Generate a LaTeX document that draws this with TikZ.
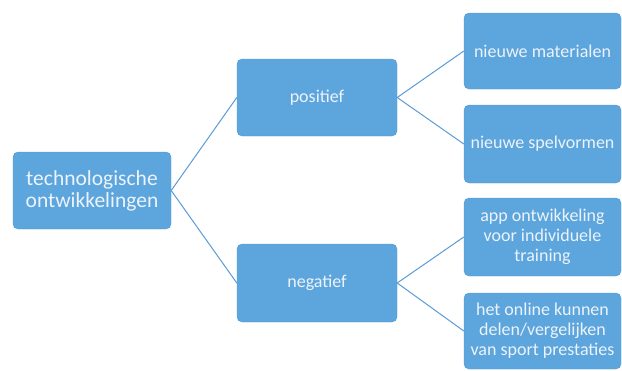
\documentclass[tikz,border=0pt]{standalone}
\usepackage{fontspec}
\setmainfont{Carlito}
\definecolor{boxfill}{RGB}{93,165,221}
\definecolor{linec}{RGB}{91,155,213}
\definecolor{txt}{RGB}{236,243,250}
\begin{document}
\begin{tikzpicture}[x=1pt,y=-1pt,
  box/.style={draw=boxfill!95!black, line width=0.4pt, fill=boxfill, rounded corners=5pt, text=txt, align=center, inner sep=0pt},
  conn/.style={draw=linec, line width=1pt}]
\useasboundingbox (0,0) rectangle (622,370);
\node[box, minimum width=158pt, minimum height=77pt, font=\fontsize{21.5}{22}\selectfont] (root) at (92,190.5) {technologische\\ontwikkelingen};
\node[box, minimum width=160pt, minimum height=77pt, font=\fontsize{18}{20}\selectfont] (pos) at (317,97.5) {positief};
\node[box, minimum width=160pt, minimum height=78pt, font=\fontsize{18}{20}\selectfont] (neg) at (317,283) {negatief};
\node[box, minimum width=157pt, minimum height=76pt, font=\fontsize{18}{20}\selectfont] (a) at (542.5,51) {nieuwe materialen};
\node[box, minimum width=157pt, minimum height=78pt, font=\fontsize{18}{20}\selectfont] (b) at (542.5,144) {nieuwe spelvormen};
\node[box, minimum width=157pt, minimum height=78pt, font=\fontsize{18}{20}\selectfont] (c) at (542.5,237) {app ontwikkeling\\voor individuele\\training};
\node[box, minimum width=157pt, minimum height=76pt, font=\fontsize{18}{20}\selectfont] (d) at (542.5,331) {het online kunnen\\delen/vergelijken\\van sport prestaties};
\draw[conn] (root.east) -- (pos.west);
\draw[conn] (root.east) -- (neg.west);
\draw[conn] (pos.east) -- (a.west);
\draw[conn] (pos.east) -- (b.west);
\draw[conn] (neg.east) -- (c.west);
\draw[conn] (neg.east) -- (d.west);
\end{tikzpicture}
\end{document}
